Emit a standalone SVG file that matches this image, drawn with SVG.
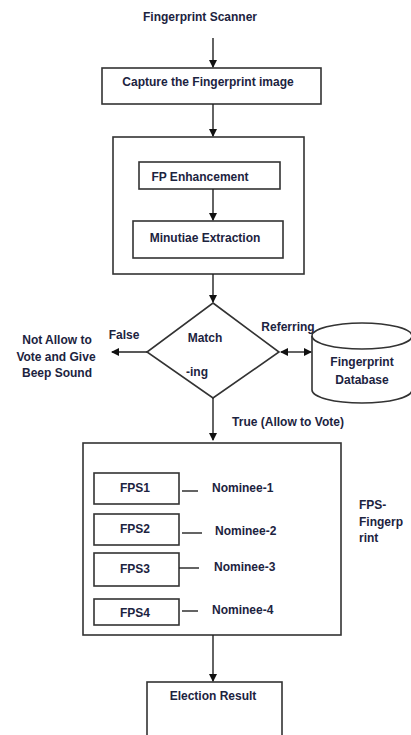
<svg xmlns="http://www.w3.org/2000/svg" width="411" height="735" viewBox="0 0 411 735">
<style>
  .box{fill:#fff;stroke:#333;stroke-width:1.6}
  .ln{fill:none;stroke:#222;stroke-width:1.4}
  .t{font-family:"Liberation Sans",Arial,sans-serif;font-weight:bold;font-size:12px;fill:#1c2340;text-anchor:middle;dominant-baseline:central}
  .ts{text-anchor:start}
</style>
<defs>
  <marker id="ah" markerWidth="8" markerHeight="8" refX="7" refY="4" orient="auto" markerUnits="userSpaceOnUse">
    <path d="M0,0 L8,4 L0,8 Z" fill="#111"/>
  </marker>
  <marker id="as" markerWidth="8" markerHeight="8" refX="1" refY="4" orient="auto" markerUnits="userSpaceOnUse">
    <path d="M8,0 L0,4 L8,8 Z" fill="#111"/>
  </marker>
</defs>
<rect width="411" height="735" fill="#fff"/>
<g id="scanner"><text class="t" x="200" y="17">Fingerprint Scanner</text></g>
<g id="capture">
  <rect class="box" x="102" y="68" width="219" height="36"/>
  <text class="t" x="208" y="82">Capture the Fingerprint image</text>
</g>
<g id="processing">
  <rect class="box" x="113" y="137" width="191" height="137"/>
</g>
<g id="enhancement">
  <rect class="box" x="139" y="162" width="141" height="27"/>
  <text class="t" x="200" y="177">FP Enhancement</text>
</g>
<g id="minutiae">
  <rect class="box" x="133" y="221" width="150" height="37"/>
  <text class="t" x="205" y="238">Minutiae Extraction</text>
</g>
<g id="matching">
  <polygon class="box" points="213,303 279,352 213,398 147,352"/>
  <text class="t" x="205" y="338">Match</text>
  <text class="t" x="197" y="372" font-size="8">-ing</text>
</g>
<g id="false-label"><text class="t" x="124" y="335">False</text></g>
<g id="not-allow">
  <text class="t" x="57" y="340">Not Allow to</text>
  <text class="t" x="56" y="357">Vote and Give</text>
  <text class="t" x="57" y="373">Beep Sound</text>
</g>
<g id="referring-label"><text class="t" x="288" y="327">Referring</text></g>
<g id="database">
  <path class="box" d="M312,336 L312,390 A50,13 0 0 0 412,390 L412,336"/>
  <ellipse class="box" cx="362" cy="336" rx="50" ry="13"/>
  <text class="t" x="362" y="362">Fingerprint</text>
  <text class="t" x="362" y="380">Database</text>
</g>
<g id="true-label"><text class="t" x="288" y="422">True (Allow to Vote)</text></g>
<g id="voting">
  <rect class="box" x="83" y="443" width="258" height="192"/>
</g>
<g id="fps1">
  <rect class="box" x="94" y="473" width="85" height="31"/>
  <text class="t" x="135" y="488">FPS1</text>
</g>
<g id="fps2">
  <rect class="box" x="94" y="514" width="85" height="31"/>
  <text class="t" x="135" y="529">FPS2</text>
</g>
<g id="fps3">
  <rect class="box" x="94" y="553" width="85" height="33"/>
  <text class="t" x="135" y="569">FPS3</text>
</g>
<g id="fps4">
  <rect class="box" x="94" y="599" width="85" height="26"/>
  <text class="t" x="135" y="613">FPS4</text>
</g>
<g id="nominees">
  <text class="t ts" x="212" y="488">Nominee-1</text>
  <text class="t ts" x="215" y="531">Nominee-2</text>
  <text class="t ts" x="214" y="567">Nominee-3</text>
  <text class="t ts" x="212" y="610">Nominee-4</text>
</g>
<g id="fps-note">
  <text class="t ts" x="359" y="505">FPS-</text>
  <text class="t ts" x="359" y="522">Fingerp</text>
  <text class="t ts" x="359" y="538">rint</text>
</g>
<g id="result">
  <rect class="box" x="147" y="682" width="135" height="60"/>
  <text class="t" x="213" y="696">Election Result</text>
</g>
<g id="connectors">
  <line class="ln" x1="213" y1="38" x2="213" y2="67" marker-end="url(#ah)"/>
  <line class="ln" x1="213" y1="104" x2="213" y2="136" marker-end="url(#ah)"/>
  <line class="ln" x1="213" y1="189" x2="213" y2="220" marker-end="url(#ah)"/>
  <line class="ln" x1="213" y1="274" x2="213" y2="302" marker-end="url(#ah)"/>
  <line class="ln" x1="147" y1="352" x2="112" y2="352" marker-end="url(#ah)"/>
  <line class="ln" x1="281" y1="352" x2="311" y2="352" marker-start="url(#as)" marker-end="url(#ah)"/>
  <line class="ln" x1="213" y1="398" x2="213" y2="440" marker-end="url(#ah)"/>
  <line class="ln" x1="213" y1="635" x2="213" y2="681" marker-end="url(#ah)"/>
  <line class="ln" x1="182" y1="491" x2="198" y2="491"/>
  <line class="ln" x1="182" y1="533" x2="202" y2="533"/>
  <line class="ln" x1="179" y1="568" x2="199" y2="568"/>
  <line class="ln" x1="182" y1="611" x2="198" y2="611"/>
</g>
</svg>
